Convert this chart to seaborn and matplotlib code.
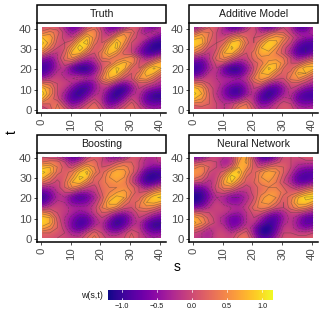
import numpy as np
import pandas as pd
import seaborn as sns
import matplotlib
matplotlib.use("Agg")
import matplotlib.pyplot as plt
from matplotlib.patches import Rectangle
from matplotlib.colorbar import ColorbarBase
from matplotlib.colors import Normalize

s_vals = [0.5, 3, 5.5, 8, 10.5, 13, 15.5, 18, 20.5, 23, 25.5, 28, 30.5, 33, 35.5, 38, 40.5]
t_vals = [40.5, 38, 35.5, 33, 30.5, 28, 25.5, 23, 20.5, 18, 15.5, 13, 10.5, 8, 5.5, 3, 0.5]
models = ["Truth", "Additive Model", "Boosting", "Neural Network"]

truth = [
[.0,.1,.1,-.3,-.8,-.6,.0,.3,-.1,-.7,-.8,-.4,.1,.1,-.5,-.8,-.2],
[.3,.5,.3,-.1,-.5,-.2,.5,.6,.0,-.4,-.1,.5,.4,-.1,-.5,.0,-.3],
[.8,.8,.2,-.1,-.2,.4,.95,.5,.0,-.1,.7,.8,.2,-.1,.0,-.5,-.8],
[1.05,.7,.1,.0,.2,.9,1.1,.3,.0,.5,1.05,.6,.0,.0,-.6,-1.05,-1.05],
[.9,.4,.0,.0,.6,1.15,.8,.1,.1,.85,1.05,.3,.0,-.3,-.9,-1.1,-1.1],
[.4,.0,-.2,.1,.9,.9,.3,.0,.4,.95,.6,.1,.0,-.5,-.95,-1.0,-.7],
[-.3,-.6,-.2,.3,.6,.2,-.2,-.2,.4,.5,.2,.4,.6,.1,-.4,-.2,.2],
[-.8,-.9,-.3,.1,.0,-.5,-.7,-.4,.1,.1,.6,.9,.6,.0,.0,.5,.8],
[-1.0,-.9,-.3,-.1,-.8,-1.15,-1.15,-.7,.0,.6,1.05,.9,.2,.0,.7,1.05,.8],
[-.9,-.6,-.1,-.3,-.5,-.7,-.8,-.4,.1,.9,1.0,.4,.0,.3,.95,.8,.3],
[-.4,-.2,.0,-.2,-.2,.0,-.2,-.3,.4,.8,.5,.0,.0,.6,.7,.3,-.1],
[.4,.3,.0,.0,-.2,-.6,-.8,-.5,.0,.2,-.3,-.6,-.3,.1,.1,-.1,-.3],
[.9,.6,.0,-.1,-.6,-1.0,-1.0,-.5,-.1,-.4,-1.0,-1.1,-.6,.0,-.3,-.5,-.6],
[1.1,.6,.0,-.3,-.9,-1.1,-.8,-.3,-.1,-.8,-1.15,-.9,-.3,-.1,-.7,-1.0,-1.05],
[.8,.3,.1,-.4,-.9,-.9,-.4,.0,-.2,-.9,-1.0,-.5,.0,-.2,-.8,-1.0,-1.0],
[.2,.2,.4,-.1,-.6,-.4,.0,.3,-.1,-.7,-.5,-.1,.3,-.1,-.6,-.7,-.6],
[-.2,.1,.5,.2,-.2,.0,.2,.4,.1,-.3,-.1,.2,.3,.1,-.2,-.4,-.3],
]
additive = [
[-.6,-.2,.2,.1,-.3,-.9,-.9,-.3,.2,-.6,-.9,-.6,.0,-.2,-.9,-.9,-.3],
[.1,.5,.4,.0,-.3,-.3,-.1,.1,.1,-.2,.0,.3,.2,-.1,-.5,-.5,-.2],
[.7,.8,.3,.0,-.1,.3,.6,.2,.0,.1,.5,.7,.6,.1,-.2,-.4,-.5],
[1.0,.9,.2,.0,.2,.9,1.0,.3,.0,.5,1.0,.9,.3,.0,-.6,-.9,-.9],
[.8,.5,.0,.0,.5,1.05,.8,.1,.1,.8,1.0,.6,.1,-.2,-.9,-1.0,-.9],
[.4,.1,-.2,.1,.8,.9,.4,.0,.3,.8,.7,.4,.1,-.4,-.95,-1.0,-.7],
[-.3,-.5,-.2,.3,.6,.3,-.1,-.1,.3,.5,.5,.5,.4,.0,-.5,-.3,.0],
[-.8,-.9,-.3,.1,.1,-.4,-.6,-.3,.1,.3,.7,.8,.5,.0,.0,.4,.6],
[-1.0,-.95,-.4,.0,-.7,-1.1,-1.05,-.6,.0,.5,1.05,.85,.2,.1,.6,.95,.9],
[-.9,-.7,-.1,-.2,-.6,-.9,-.9,-.4,.1,.8,.9,.4,.1,.3,.85,.8,.4],
[-.3,-.2,.0,-.2,-.3,-.3,-.4,-.2,.4,.7,.5,.1,.0,.5,.6,.3,.0],
[.4,.3,.0,-.1,-.3,-.5,-.6,-.4,.1,.3,-.2,-.5,-.2,.1,.1,-.1,-.3],
[.9,.7,.1,-.1,-.5,-.9,-1.0,-.5,.0,-.3,-.9,-.9,-.5,.0,-.2,-.6,-.7],
[1.05,.8,.2,-.2,-.5,-.95,-1.0,-.5,-.1,-.8,-1.1,-.9,-.4,-.1,-.7,-.95,-.95],
[.8,.6,.2,-.1,-.4,-.6,-.5,.0,-.2,-.9,-1.0,-.5,-.1,-.2,-.8,-.9,-.9],
[.3,.3,.2,.0,-.2,-.1,.2,.4,-.1,-.6,-.5,-.1,.1,.0,-.5,-.6,-.5],
[.0,.1,.1,.0,-.2,.0,.5,.5,.1,-.3,-.2,.0,.1,.1,-.2,-.3,-.2],
]
boosting = [
[.0,-.1,-.2,-.5,-.9,-.8,-.1,.1,.1,-.5,-.7,-.5,.1,.1,-.2,-.3,.0],
[.2,.3,.3,.0,-.5,-.3,.2,.3,.0,-.2,.0,.2,.2,.0,-.3,-.3,-.1],
[.7,.8,.4,.1,-.1,.3,.7,.4,.0,.1,.4,.5,.3,.0,-.3,-.5,-.5],
[1.05,.9,.3,.1,.3,.8,1.05,.5,.1,.5,.8,.7,.3,-.1,-.8,-1.0,-.9],
[.9,.5,.1,.1,.5,1.05,.95,.2,.2,.6,.8,.6,.1,-.4,-1.05,-1.1,-1.0],
[.4,.2,-.1,.2,.8,.95,.5,.1,.3,.5,.6,.5,.1,-.5,-1.0,-1.0,-.6],
[-.2,-.3,-.1,.2,.6,.4,.0,-.1,.3,.4,.4,.5,.3,.0,-.5,-.2,.1],
[-.8,-.6,-.2,.0,.0,-.4,-.4,-.2,.2,.4,.6,.7,.4,.0,.1,.5,.7],
[-1.1,-.8,-.3,-.2,-.7,-.95,-.8,-.4,.1,.6,.9,.8,.2,.1,.6,.95,1.05],
[-.9,-.5,-.1,-.2,-.6,-.7,-.6,-.2,.2,.85,.95,.4,.1,.3,.8,.85,.7],
[-.3,-.1,.0,-.1,-.3,-.3,-.3,-.1,.4,.7,.5,.1,.0,.4,.5,.4,.1],
[.5,.3,.0,-.1,-.3,-.5,-.4,-.1,.2,.1,-.2,-.4,-.2,.1,.1,-.1,-.3],
[.9,.8,.1,-.2,-.5,-.8,-.8,-.3,.0,-.3,-.9,-.9,-.4,.0,-.2,-.6,-.7],
[1.0,.8,.2,-.2,-.6,-1.0,-.9,-.4,-.1,-.7,-1.1,-.9,-.4,-.1,-.7,-1.0,-1.0],
[.7,.5,.2,-.1,-.6,-.9,-.6,-.1,-.1,-.7,-.9,-.6,-.1,-.1,-.7,-1.0,-.95],
[.2,.2,.1,.0,-.3,-.4,.0,.3,.0,-.3,-.4,-.1,.2,.0,-.4,-.6,-.5],
[.1,.1,.0,.0,-.1,-.1,.2,.5,.1,-.1,.0,.0,.3,.0,-.2,-.4,-.2],
]
neural = [
[-.8,-.7,-.2,.0,-.2,-.2,.5,.8,-.1,-1.05,-1.1,-.6,.1,.0,.0,.2,.2],
[-.1,.0,.1,.0,-.4,-.3,.6,.85,.1,-.5,-.4,-.1,.1,.0,-.1,-.1,-.1],
[.3,.5,.2,.0,-.3,.0,.8,.7,.1,-.1,.2,.3,.2,.0,-.3,-.4,-.4],
[.6,.6,.0,-.1,.1,.8,1.05,.4,.1,.5,.75,.6,.2,-.1,-.6,-.8,-.8],
[.5,.3,-.1,-.1,.5,1.15,.85,.2,.1,.6,.75,.5,.1,-.3,-.85,-.95,-.85],
[.1,.0,-.3,.0,.7,1.0,.5,.1,.2,.5,.6,.4,.0,-.3,-.8,-.85,-.6],
[-.6,-.6,-.3,.1,.5,.5,.1,-.1,.1,.3,.4,.4,.2,.0,-.3,-.1,.1],
[-1.0,-1.0,-.5,.0,.1,-.1,-.3,-.2,.1,.3,.5,.6,.3,.1,.2,.5,.7],
[-1.15,-1.1,-.6,-.2,-.3,-.6,-.6,-.3,.0,.5,.75,.6,.1,.3,.8,1.05,1.05],
[-1.1,-.95,-.4,.0,-.3,-.5,-.5,-.2,.1,.6,.7,.4,.0,.4,.9,.95,.7],
[-.6,-.5,-.2,.0,-.1,-.2,-.3,-.1,.3,.5,.4,.1,.0,.3,.6,.5,.2],
[.2,.1,.0,-.1,-.1,-.3,-.4,-.2,.1,.1,-.2,-.5,-.3,.0,.0,-.2,-.4],
[.7,.5,.1,-.1,-.3,-.7,-.7,-.2,.0,-.3,-.8,-.9,-.4,-.1,-.4,-.8,-.8],
[.85,.6,.2,-.1,-.3,-.7,-.7,-.2,-.1,-.6,-1.0,-.9,-.3,-.1,-.5,-.85,-.8],
[.4,.2,-.2,-.1,-.1,-.6,-.4,.0,-.4,-1.1,-1.2,-.8,-.1,-.1,-.4,-.6,-.4],
[.0,-.2,-.4,.0,.0,-.2,.1,.3,-.4,-1.1,-1.15,-.6,.0,.0,-.1,-.1,.0],
[-.1,-.2,-.3,.0,.0,-.1,.3,.4,-.1,-.8,-.8,-.3,.1,.1,.1,.1,.2],
]
ticks = [0, 10, 20, 30, 40]
bar_ticks = [-1.0, -0.5, 0.0, 0.5, 1.0]
bar_labels = ["\u22121.0", "\u22120.5", "0.0", "0.5", "1.0"]
levels = [-1.2, -1.0, -0.8, -0.6, -0.4, -0.2, 0.0, 0.2, 0.4, 0.6, 0.8, 1.0]
vmin, vmax = -1.2, 1.157

sns.set_theme(style="white")
plt.rcParams["font.family"] = ["Liberation Sans", "DejaVu Sans"]

frames = []
for name, grid in zip(models, [truth, additive, boosting, neural]):
    long = pd.DataFrame(grid, index=t_vals, columns=s_vals).stack().rename("w").reset_index()
    long.columns = ["t", "s", "w"]
    long["model"] = name
    frames.append(long)
df = pd.concat(frames, ignore_index=True)

def surface(data, **kwargs):
    ax = plt.gca()
    wide = data.pivot(index="t", columns="s", values="w").sort_index()
    xs, ys, z = wide.columns.values, wide.index.values, wide.values
    dx, dy = xs[1] - xs[0], ys[1] - ys[0]
    im = ax.imshow(z, origin="lower", cmap="plasma", vmin=vmin, vmax=vmax, aspect="auto",
                   interpolation="bicubic",
                   extent=[xs[0] - dx / 2, xs[-1] + dx / 2, ys[0] - dy / 2, ys[-1] + dy / 2])
    im.set_clip_path(Rectangle((xs[0], ys[0]), xs[-1] - xs[0], ys[-1] - ys[0], transform=ax.transData))
    ax.contour(xs, ys, z, levels=levels, colors="#3a3a3a", linewidths=0.45, alpha=0.45)

W = H = 324
g = sns.FacetGrid(df, col="model", col_wrap=2, col_order=models, height=1.62, aspect=1.0,
                  sharex=False, sharey=False, despine=False)
g.map_dataframe(surface)
fig = g.figure
fig.set_size_inches(3.24, 3.24)

boxes = [(37, 23, 166, 113), (189, 23, 318, 113), (37, 152.5, 166, 242), (189, 152.5, 318, 242)]
strips = [(5.5, 23), (5.5, 23), (135, 152.5), (135, 152.5)]
for ax, name, (x0, y0, x1, y1), (sy0, sy1) in zip(g.axes.flat, models, boxes, strips):
    ax.set_position([x0 / W, 1 - y1 / H, (x1 - x0) / W, (y1 - y0) / H])
    ax.set_xlim(-1.35, 42.1)
    ax.set_ylim(-1.47, 42.7)
    ax.set_title("")
    ax.set_xlabel("")
    ax.set_ylabel("")
    ax.set_xticks(ticks)
    ax.set_yticks(ticks)
    ax.tick_params(axis="x", labelrotation=90, labelsize=8.2, colors="#4d4d4d", length=2.2, width=0.7, pad=1.5, bottom=True)
    ax.tick_params(axis="y", labelsize=8.2, colors="#4d4d4d", length=2.2, width=0.7, pad=1.5, left=True)
    for side in ["top", "right"]:
        ax.spines[side].set_visible(False)
    for side in ["left", "bottom"]:
        ax.spines[side].set_visible(True)
        ax.spines[side].set_color("black")
        ax.spines[side].set_linewidth(1.1)
    fig.add_artist(Rectangle((x0 / W, 1 - sy1 / H), (x1 - x0) / W, (sy1 - sy0) / H, transform=fig.transFigure,
                             facecolor="white", edgecolor="black", linewidth=1.1))
    fig.text((x0 + x1) / 2 / W, 1 - (sy0 + sy1) / 2 / H, name, ha="center", va="center", fontsize=7.6, color="#1a1a1a")

fig.text(177 / W, 1 - 267 / H, "s", ha="center", va="center", fontsize=10, color="black")
fig.text(12 / W, 1 - 132 / H, "t", ha="center", va="center", fontsize=10, color="black", rotation=90)

cax = fig.add_axes([108 / W, 1 - 299.5 / H, 165 / W, 9.5 / H])
cb = ColorbarBase(cax, cmap=plt.get_cmap("plasma"), norm=Normalize(vmin, vmax), orientation="horizontal")
cb.outline.set_visible(False)
cb.set_ticks(bar_ticks)
cb.set_ticklabels(bar_labels)
cax.tick_params(axis="x", labelsize=5.2, colors="#1a1a1a", length=0, pad=2.5)
for v in bar_ticks:
    cax.plot([v, v], [0, 0.2], color="white", lw=0.5, transform=cax.get_xaxis_transform())
    cax.plot([v, v], [0.8, 1], color="white", lw=0.5, transform=cax.get_xaxis_transform())
fig.text(103 / W, 1 - 295 / H, "w(s,t)", ha="right", va="center", fontsize=6.4, color="#1a1a1a")

fig.savefig("out.png", dpi=100)
